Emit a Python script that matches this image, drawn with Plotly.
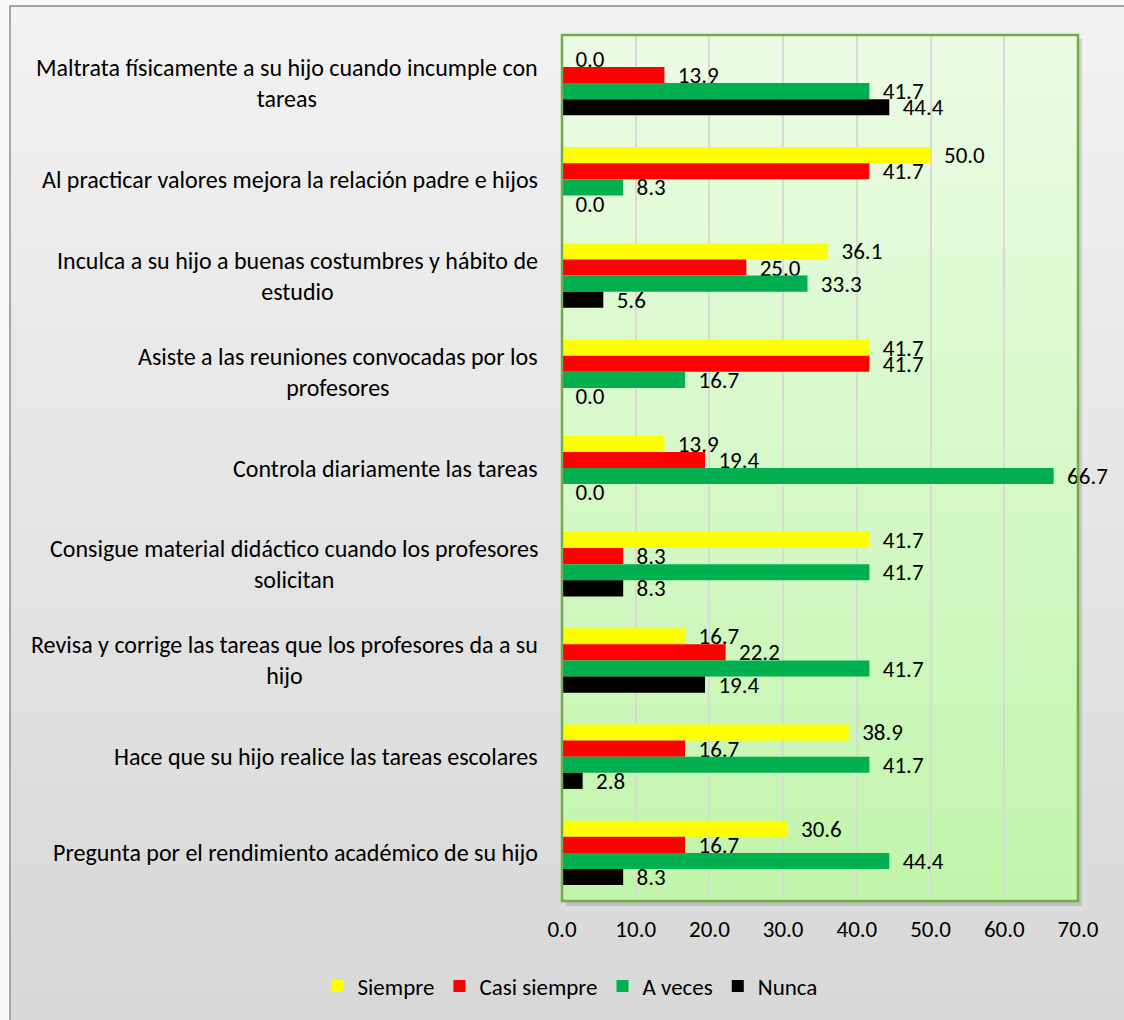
import plotly.graph_objects as go

categories = [
    "Maltrata físicamente a su hijo cuando incumple con<br>tareas",
    "Al practicar valores mejora la relación padre e hijos",
    "Inculca a su hijo a buenas costumbres y hábito de<br>estudio",
    "Asiste a las reuniones convocadas por los<br>profesores",
    "Controla diariamente las tareas",
    "Consigue material didáctico cuando los profesores<br>solicitan",
    "Revisa y corrige las tareas que los profesores da a su<br>hijo",
    "Hace que su hijo realice las tareas escolares",
    "Pregunta por el rendimiento académico de su hijo",
]
siempre = [0.0, 50.0, 36.1, 41.7, 13.9, 41.7, 16.7, 38.9, 30.6]
casi_siempre = [13.9, 41.7, 25.0, 41.7, 19.4, 8.3, 22.2, 16.7, 16.7]
a_veces = [41.7, 8.3, 33.3, 16.7, 66.7, 41.7, 41.7, 41.7, 44.4]
nunca = [44.4, 0.0, 5.6, 0.0, 0.0, 8.3, 19.4, 2.8, 8.3]
x_ticks = [0, 10, 20, 30, 40, 50, 60, 70]

series = [
    ("Siempre", siempre, "#FFFF00"),
    ("Casi siempre", casi_siempre, "#FF0000"),
    ("A veces", a_veces, "#00B050"),
    ("Nunca", nunca, "#000000"),
]

FONT = "Carlito, Lato, sans-serif"
FS = 24
W, H = 1124, 1020
L, R, T, B = 562, 46, 35, 119
PW, PH = W - L - R, H - T - B

fig = go.Figure()
for name, vals, col in series:
    fig.add_trace(go.Bar(
        y=categories, x=vals, name=name, orientation="h",
        marker=dict(color=col, line=dict(width=0)),
        text=vals, texttemplate="\u00a0\u00a0%{x:.1f}", textposition="outside",
        textfont=dict(family=FONT, size=FS - 1, color="#000000"),
        cliponaxis=False, constraintext="none",
    ))

shapes = []


def lerp(c1, c2, t):
    return "rgb(%d,%d,%d)" % tuple(round(a + (b - a) * t) for a, b in zip(c1, c2))


N = 40
x0o, x1o = -L / PW, 1 + R / PW
y0o, y1o = -B / PH, 1 + T / PH
top_o, bot_o = (242, 242, 242), (216, 216, 216)
for i in range(N):
    ya = y1o - (y1o - y0o) * i / N
    yb = y1o - (y1o - y0o) * (i + 1) / N
    shapes.append(dict(type="rect", xref="paper", yref="paper", x0=x0o, x1=x1o,
                       y0=yb, y1=ya + 0.002, fillcolor=lerp(top_o, bot_o, i / (N - 1)),
                       line=dict(width=0), layer="below"))
# white strip left/top outside the frame
shapes.append(dict(type="rect", xref="paper", yref="paper", x0=x0o, x1=(9 - L) / PW,
                   y0=y0o, y1=y1o, fillcolor="#FAFAFA", line=dict(width=0), layer="below"))
shapes.append(dict(type="rect", xref="paper", yref="paper", x0=x0o, x1=x1o,
                   y0=1 + (T - 5) / PH, y1=y1o, fillcolor="#FAFAFA", line=dict(width=0), layer="below"))
# outer frame (left/top visible)
shapes.append(dict(type="rect", xref="paper", yref="paper",
                   x0=(10 - L) / PW, x1=1 + (R + 20) / PW,
                   y0=-(B + 20) / PH, y1=1 + (T - 6) / PH,
                   line=dict(color="#A6A6A6", width=2), fillcolor="rgba(0,0,0,0)", layer="below"))
# plot area shadow
shapes.append(dict(type="rect", xref="paper", yref="paper",
                   x0=4 / PW, x1=1 + 4 / PW, y0=-5 / PH, y1=1 - 4 / PH,
                   fillcolor="rgba(0,0,0,0.12)", line=dict(width=0), layer="below"))
# plot area gradient
top_p, bot_p = (235, 252, 228), (194, 245, 172)
for i in range(N):
    ya = 1 - i / N
    yb = 1 - (i + 1) / N
    shapes.append(dict(type="rect", xref="paper", yref="paper", x0=0, x1=1,
                       y0=yb, y1=min(1, ya + 0.002), fillcolor=lerp(top_p, bot_p, i / (N - 1)),
                       line=dict(width=0), layer="below"))
# plot border
shapes.append(dict(type="rect", xref="paper", yref="paper", x0=0, x1=1, y0=0, y1=1,
                   line=dict(color="#70AD47", width=2.5), fillcolor="rgba(0,0,0,0)", layer="above"))

annotations = []
for c in categories:
    annotations.append(dict(xref="paper", yref="y", x=(540 - L) / PW, y=c, text=c,
                            xanchor="right", yanchor="middle", align="center",
                            showarrow=False, font=dict(family=FONT, size=FS, color="#000000")))

fig.update_layout(
    width=W, height=H,
    margin=dict(l=L, r=R, t=T, b=B),
    barmode="group", bargap=0.33, bargroupgap=0,
    paper_bgcolor="#E6E6E6", plot_bgcolor="rgba(0,0,0,0)",
    font=dict(family=FONT, size=FS, color="#000000"),
    shapes=shapes, annotations=annotations,
    xaxis=dict(range=[0, 70], tickvals=x_ticks, tickformat=".1f",
               showgrid=True, gridcolor="#D9D9D9", gridwidth=2,
               zeroline=False, showline=False, ticks="", ticklabelstandoff=12,
               tickfont=dict(family=FONT, size=FS - 1, color="#000000"), fixedrange=True),
    yaxis=dict(autorange="reversed", showticklabels=False, showgrid=False,
               zeroline=False, showline=False, ticks="", fixedrange=True),
    legend=dict(orientation="h", x=(570 - L) / PW, xanchor="center",
                y=-(986 - (H - B)) / PH, yanchor="middle",
                font=dict(family=FONT, size=FS - 1, color="#000000"),
                bgcolor="rgba(0,0,0,0)", itemwidth=30, traceorder="normal"),
    showlegend=True,
)

fig.write_html("out.html", config={"displayModeBar": False},
               post_script="document.body.style.margin='0';")
